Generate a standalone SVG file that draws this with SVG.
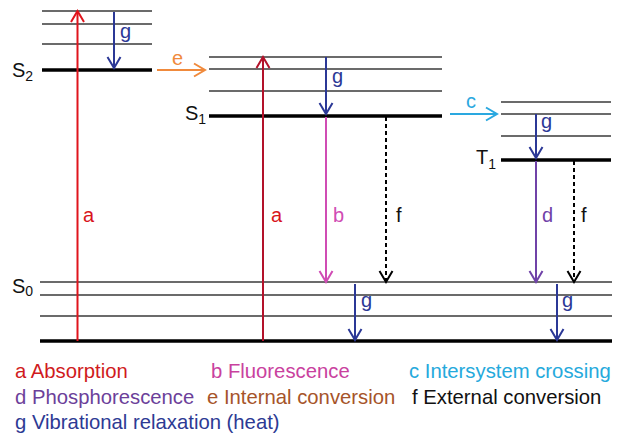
<svg xmlns="http://www.w3.org/2000/svg" width="617" height="435" viewBox="0 0 617 435">
<style>
text{font-family:"Liberation Sans",Arial,sans-serif}
.thin{stroke:#3a3a3a;stroke-width:1.5}
.thick{stroke:#000;stroke-width:3.5}
.st{font-size:20px;fill:#111}
.sub{font-size:14px;fill:#111}
.lbl{font-size:20px}
.leg{font-size:20.3px}
.arr{fill:none;stroke-width:2}
</style>
<defs>
<marker id="mRed" viewBox="-13 -8 15 16" markerWidth="15" markerHeight="16" refX="0" refY="0" orient="auto" markerUnits="userSpaceOnUse"><path d="M-11,-6.5 L0,0 L-11,6.5" fill="none" stroke="#e0141c" stroke-width="2"/></marker>
<marker id="mDred" viewBox="-13 -8 15 16" markerWidth="15" markerHeight="16" refX="0" refY="0" orient="auto" markerUnits="userSpaceOnUse"><path d="M-11,-6.5 L0,0 L-11,6.5" fill="none" stroke="#b3122a" stroke-width="2"/></marker>
<marker id="mBlue" viewBox="-13 -8 15 16" markerWidth="15" markerHeight="16" refX="0" refY="0" orient="auto" markerUnits="userSpaceOnUse"><path d="M-11,-6.5 L0,0 L-11,6.5" fill="none" stroke="#2b3896" stroke-width="2"/></marker>
<marker id="mOr" viewBox="-13 -8 15 16" markerWidth="15" markerHeight="16" refX="0" refY="0" orient="auto" markerUnits="userSpaceOnUse"><path d="M-11,-6.5 L0,0 L-11,6.5" fill="none" stroke="#f08a3c" stroke-width="2"/></marker>
<marker id="mCy" viewBox="-13 -8 15 16" markerWidth="15" markerHeight="16" refX="0" refY="0" orient="auto" markerUnits="userSpaceOnUse"><path d="M-11,-6.5 L0,0 L-11,6.5" fill="none" stroke="#2aa8e0" stroke-width="2"/></marker>
<marker id="mPk" viewBox="-13 -8 15 16" markerWidth="15" markerHeight="16" refX="0" refY="0" orient="auto" markerUnits="userSpaceOnUse"><path d="M-11,-6.5 L0,0 L-11,6.5" fill="none" stroke="#d04cb4" stroke-width="2"/></marker>
<marker id="mPu" viewBox="-13 -8 15 16" markerWidth="15" markerHeight="16" refX="0" refY="0" orient="auto" markerUnits="userSpaceOnUse"><path d="M-11,-6.5 L0,0 L-11,6.5" fill="none" stroke="#7042a8" stroke-width="2"/></marker>
<marker id="mBk" viewBox="-13 -8 15 16" markerWidth="15" markerHeight="16" refX="0" refY="0" orient="auto" markerUnits="userSpaceOnUse"><path d="M-11,-6.5 L0,0 L-11,6.5" fill="none" stroke="#000" stroke-width="2"/></marker>
</defs>
<rect width="617" height="435" fill="#fff"/>

<g id="S2">
<line class="thin" x1="42" y1="11" x2="152" y2="11"/>
<line class="thin" x1="42" y1="24" x2="152" y2="24"/>
<line class="thin" x1="42" y1="44" x2="152" y2="44"/>
<line class="thick" x1="42" y1="70" x2="152" y2="70"/>
<text class="st" x="12" y="77">S<tspan class="sub" dy="4">2</tspan></text>
</g>

<g id="S1">
<line class="thin" x1="209" y1="57" x2="442" y2="57"/>
<line class="thin" x1="209" y1="69" x2="442" y2="69"/>
<line class="thin" x1="209" y1="91" x2="442" y2="91"/>
<line class="thick" x1="209" y1="116" x2="442" y2="116"/>
<text class="st" x="185" y="120">S<tspan class="sub" dy="4">1</tspan></text>
</g>

<g id="T1">
<line class="thin" x1="501" y1="102" x2="611" y2="102"/>
<line class="thin" x1="501" y1="114" x2="611" y2="114"/>
<line class="thin" x1="501" y1="136" x2="611" y2="136"/>
<line class="thick" x1="501" y1="160" x2="611" y2="160"/>
<text class="st" x="476" y="164">T<tspan class="sub" dy="5">1</tspan></text>
</g>

<g id="S0">
<line class="thin" x1="40" y1="282" x2="612" y2="282"/>
<line class="thin" x1="40" y1="295" x2="612" y2="295"/>
<line class="thin" x1="40" y1="316" x2="612" y2="316"/>
<line class="thick" x1="40" y1="341" x2="612" y2="341"/>
<text class="st" x="12" y="293">S<tspan class="sub" dy="3">0</tspan></text>
</g>

<g id="connectors">
<line class="arr" x1="77.5" y1="341" x2="77.5" y2="11" stroke="#e0141c" marker-end="url(#mRed)"/>
<text class="lbl" x="83" y="222" fill="#d8141c">a</text>
<line class="arr" x1="114" y1="12" x2="114" y2="68" stroke="#2b3896" marker-end="url(#mBlue)"/>
<text class="lbl" x="120" y="38" fill="#2b3896">g</text>
<line class="arr" x1="157" y1="70" x2="205" y2="70" stroke="#f08a3c" marker-end="url(#mOr)"/>
<text class="lbl" x="172" y="65" fill="#f08a3c">e</text>

<line class="arr" x1="263" y1="341" x2="263" y2="57" stroke="#b3122a" marker-end="url(#mDred)"/>
<text class="lbl" x="271" y="222" fill="#d8141c">a</text>
<line class="arr" x1="326" y1="57" x2="326" y2="114" stroke="#2b3896" marker-end="url(#mBlue)"/>
<text class="lbl" x="332" y="83" fill="#2b3896">g</text>
<line class="arr" x1="326" y1="117" x2="326" y2="282" stroke="#d04cb4" marker-end="url(#mPk)"/>
<text class="lbl" x="333" y="222" fill="#d04cb4">b</text>
<line class="arr" x1="386" y1="117" x2="386" y2="282" stroke="#000" stroke-dasharray="4 3" marker-end="url(#mBk)"/>
<text class="lbl" x="396" y="222" fill="#111">f</text>
<line class="arr" x1="450" y1="114" x2="497" y2="114" stroke="#2aa8e0" marker-end="url(#mCy)"/>
<text class="lbl" x="466" y="108" fill="#2aa8e0">c</text>

<line class="arr" x1="536" y1="114" x2="536" y2="158" stroke="#2b3896" marker-end="url(#mBlue)"/>
<text class="lbl" x="541" y="128" fill="#2b3896">g</text>
<line class="arr" x1="536" y1="161" x2="536" y2="282" stroke="#7042a8" marker-end="url(#mPu)"/>
<text class="lbl" x="542" y="222" fill="#7042a8">d</text>
<line class="arr" x1="574" y1="161" x2="574" y2="282" stroke="#000" stroke-dasharray="4 3" marker-end="url(#mBk)"/>
<text class="lbl" x="581" y="222" fill="#111">f</text>

<line class="arr" x1="355" y1="284" x2="355" y2="340" stroke="#2b3896" marker-end="url(#mBlue)"/>
<text class="lbl" x="361" y="307" fill="#2b3896">g</text>
<line class="arr" x1="557" y1="284" x2="557" y2="340" stroke="#2b3896" marker-end="url(#mBlue)"/>
<text class="lbl" x="562" y="307" fill="#2b3896">g</text>
</g>

<g id="legend">
<text class="leg" x="15" y="378" fill="#d01a20">a Absorption</text>
<text class="leg" x="211" y="378" fill="#c9419e">b Fluorescence</text>
<text class="leg" x="409" y="378" fill="#25a9dc">c Intersystem crossing</text>
<text class="leg" x="15" y="404" fill="#6c3f9a">d Phosphorescence</text>
<text class="leg" x="207" y="404" fill="#a6542a">e Internal conversion</text>
<text class="leg" x="412" y="404" fill="#111">f External conversion</text>
<text class="leg" x="15" y="429" fill="#2d3a94">g Vibrational relaxation (heat)</text>
</g>
</svg>
